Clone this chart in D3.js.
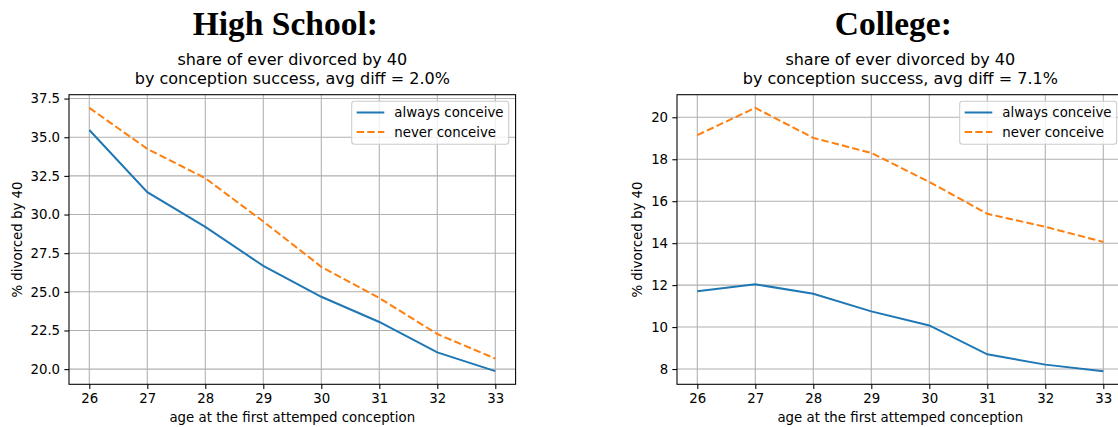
<!DOCTYPE html>
<html lang="en">
<head>
    <meta charset="UTF-8">
    <title>Divorce by conception success</title>
    <style>
        body {
            margin: 0;
            padding: 0;
            background: #fff;
        }

        svg {
            display: block;
            font-family: "DejaVu Sans", sans-serif;
        }

        .big-title {
            font-family: "Liberation Serif", serif;
            font-weight: bold;
            font-size: 33.5px;
            text-anchor: middle;
        }

        .sub-title {
            font-size: 16px;
            text-anchor: middle;
        }

        .axis-label {
            font-size: 13.33px;
            text-anchor: middle;
        }
    </style>
</head>
<body>
    <svg width="1118" height="427"></svg>

    <script src="https://d3js.org/d3.v7.min.js"></script>
    <script>
        // ages on the x axis
        const ages = [26, 27, 28, 29, 30, 31, 32, 33];

        // High School panel
        const hsAlways = [35.47, 31.45, 29.2, 26.68, 24.68, 23.05, 21.08, 19.87];
        const hsNever = [36.9, 34.25, 32.35, 29.55, 26.62, 24.6, 22.27, 20.68];
        const hsTicks = [20, 22.5, 25, 27.5, 30, 32.5, 35, 37.5];

        // College panel
        const colAlways = [11.71, 12.04, 11.59, 10.75, 10.08, 8.7, 8.21, 7.9];
        const colNever = [19.15, 20.45, 19.02, 18.3, 16.92, 15.4, 14.78, 14.06];
        const colTicks = [8, 10, 12, 14, 16, 18, 20];

        const seriesNames = ["always conceive", "never conceive"];

        const svg = d3.select("svg");
        const plotTop = 94.7, plotBottom = 384.3;

        // same 5% padding matplotlib puts round the data
        function padded(lo, hi) {
            const p = (hi - lo) * 0.05;
            return [lo - p, hi + p];
        }

        function drawPanel(cfg) {
            const g = svg.append("g");
            const left = cfg.left, right = cfg.left + 446.6;

            const x = d3.scaleLinear().domain(padded(d3.min(ages), d3.max(ages))).range([left, right]);
            const all = cfg.always.concat(cfg.never);
            const y = d3.scaleLinear().domain(padded(d3.min(all), d3.max(all))).range([plotBottom, plotTop]);

            // grid
            g.selectAll(".vgrid").data(ages).enter().append("line")
                .attr("x1", d => x(d)).attr("x2", d => x(d))
                .attr("y1", plotTop).attr("y2", plotBottom)
                .attr("stroke", "#b0b0b0").attr("stroke-width", 1.07);
            g.selectAll(".hgrid").data(cfg.ticks).enter().append("line")
                .attr("x1", left).attr("x2", right)
                .attr("y1", d => y(d)).attr("y2", d => y(d))
                .attr("stroke", "#b0b0b0").attr("stroke-width", 1.07);

            // axes
            const xAxis = d3.axisBottom(x).tickValues(ages).tickFormat(d3.format("d"))
                .tickSize(4.7).tickPadding(4.2).tickSizeOuter(0);
            const yAxis = d3.axisLeft(y).tickValues(cfg.ticks).tickFormat(cfg.fmt)
                .tickSize(4.7).tickPadding(4.2).tickSizeOuter(0);

            const gx = g.append("g").attr("transform", `translate(0,${plotBottom})`).call(xAxis);
            const gy = g.append("g").attr("transform", `translate(${left},0)`).call(yAxis);
            [gx, gy].forEach(a => {
                a.select(".domain").remove();
                a.selectAll("line").attr("stroke", "#000").attr("stroke-width", 1.07);
                a.selectAll("text").attr("font-size", "13.33px").attr("fill", "#000")
                    .attr("font-family", "DejaVu Sans");
            });

            // lines
            const line = d3.line().x((d, i) => x(ages[i])).y(d => y(d));
            g.append("path").datum(cfg.always)
                .attr("d", line).attr("fill", "none")
                .attr("stroke", "#1f77b4").attr("stroke-width", 2);
            g.append("path").datum(cfg.never)
                .attr("d", line).attr("fill", "none")
                .attr("stroke", "#ff7f0e").attr("stroke-width", 2)
                .attr("stroke-dasharray", "7.4,3.2");

            // frame
            g.append("rect")
                .attr("x", left).attr("y", plotTop)
                .attr("width", right - left).attr("height", plotBottom - plotTop)
                .attr("fill", "none").attr("stroke", "#000").attr("stroke-width", 1.07);

            // legend
            const lw = 157, lh = 43;
            const lx = right - 6.9 - lw, ly = plotTop + 6.5;
            const leg = g.append("g");
            leg.append("rect")
                .attr("x", lx).attr("y", ly).attr("width", lw).attr("height", lh)
                .attr("rx", 2.7)
                .attr("fill", "#fff").attr("fill-opacity", 0.8)
                .attr("stroke", "#cccccc").attr("stroke-width", 1.07);
            seriesNames.forEach((name, i) => {
                const cy = ly + 11.3 + i * 19.4;
                leg.append("line")
                    .attr("x1", lx + 5).attr("x2", lx + 32.6)
                    .attr("y1", cy).attr("y2", cy)
                    .attr("stroke", i === 0 ? "#1f77b4" : "#ff7f0e")
                    .attr("stroke-width", 2)
                    .attr("stroke-dasharray", i === 0 ? null : "7.4,3.2");
                leg.append("text")
                    .attr("x", lx + 42.6).attr("y", cy + 4.8)
                    .attr("font-size", "13.33px")
                    .text(name);
            });

            // labels and titles
            const cx = (left + right) / 2;
            g.append("text").attr("class", "axis-label")
                .attr("x", cx).attr("y", 422)
                .text("age at the first attemped conception");
            g.append("text").attr("class", "axis-label")
                .attr("transform", `translate(${left - cfg.ylabelGap},${(plotTop + plotBottom) / 2}) rotate(-90)`)
                .text("% divorced by 40");
            g.append("text").attr("class", "sub-title")
                .attr("x", cx).attr("y", 64.5)
                .text("share of ever divorced by 40");
            g.append("text").attr("class", "sub-title")
                .attr("x", cx).attr("y", 83.7)
                .text(`by conception success, avg diff = ${cfg.diff}`);
            g.append("text").attr("class", "big-title")
                .attr("x", cx - 7).attr("y", 35)
                .text(cfg.title);
        }

        drawPanel({
            left: 69, title: "High School:", diff: "2.0%", ylabelGap: 47.5,
            always: hsAlways, never: hsNever, ticks: hsTicks, fmt: d3.format(".1f")
        });
        drawPanel({
            left: 677, title: "College:", diff: "7.1%", ylabelGap: 35.5,
            always: colAlways, never: colNever, ticks: colTicks, fmt: d3.format("d")
        });
    </script>
</body>
</html>
